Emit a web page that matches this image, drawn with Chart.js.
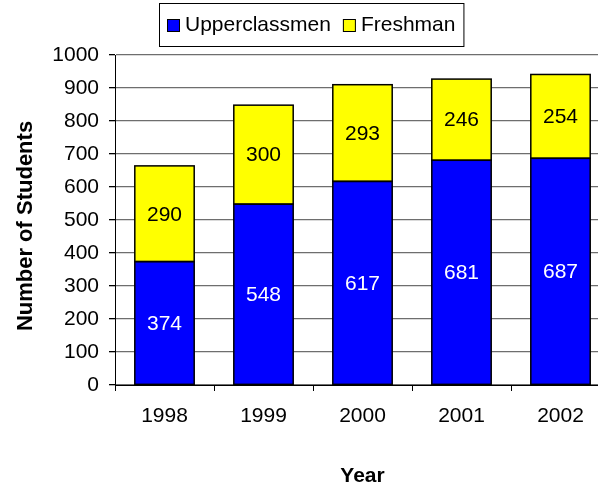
<!DOCTYPE html>
<html>
<head>
<meta charset="utf-8">
<script src="https://cdn.jsdelivr.net/npm/chart.js@4"></script>
<style>
  html, body { margin: 0; padding: 0; background: #fff; overflow: hidden; }
  #wrap { position: absolute; left: 0; top: 0; width: 610px; height: 487px; }
</style>
</head>
<body>
<div id="wrap"><canvas id="chart"></canvas></div>
<script>
// 数据
const years = ['1998', '1999', '2000', '2001', '2002'];
const upperclassmen = [374, 548, 617, 681, 687];
const freshman = [290, 300, 293, 246, 254];
const yTicks = [0, 100, 200, 300, 400, 500, 600, 700, 800, 900, 1000];

const FONT = "'Liberation Sans', Arial, sans-serif";

// 柱内数值
const barLabels = {
    id: 'barLabels',
    afterDatasetsDraw(chart) {
        const ctx = chart.ctx;
        ctx.save();
        ctx.font = '21px ' + FONT;
        ctx.textAlign = 'center';
        ctx.textBaseline = 'middle';
        chart.data.datasets.forEach((ds, i) => {
            const meta = chart.getDatasetMeta(i);
            meta.data.forEach((bar, j) => {
                ctx.fillStyle = ds.labelColor;
                ctx.fillText(String(ds.data[j]), bar.x, (bar.y + bar.base) / 2 + 1);
            });
        });
        ctx.restore();
    }
};

// 带边框的图例 + 纵轴标题
const boxedLegend = {
    id: 'boxedLegend',
    afterDraw(chart) {
        const ctx = chart.ctx;
        ctx.save();
        ctx.font = '21px ' + FONT;
        const sq = 13, gapText = 5, gapItem = 12, padX = 8;
        const items = chart.data.datasets.map(ds => ({
            label: ds.label, color: ds.backgroundColor,
            w: ctx.measureText(ds.label).width
        }));
        let total = padX * 2;
        items.forEach((it, i) => { total += sq + gapText + it.w + (i ? gapItem : 0); });
        const cx = 311, top = 3, h = 43;
        const left = Math.round(cx - total / 2);
        ctx.strokeStyle = '#000';
        ctx.lineWidth = 1;
        ctx.strokeRect(left + 0.5, top + 0.5, total, h);
        let x = left + padX;
        const my = top + h / 2 + 1;
        ctx.textBaseline = 'middle';
        ctx.textAlign = 'left';
        items.forEach((it, i) => {
            if (i) x += gapItem;
            ctx.fillStyle = it.color;
            ctx.fillRect(x, my - sq / 2, sq, sq);
            ctx.strokeRect(x + 0.5, my - sq / 2 + 0.5, sq - 1, sq - 1);
            x += sq + gapText;
            ctx.fillStyle = '#000';
            ctx.fillText(it.label, x, my);
            x += it.w;
        });

        // 纵轴标题
        ctx.translate(26, 226);
        ctx.rotate(-Math.PI / 2);
        ctx.textAlign = 'center';
        ctx.font = 'bold 22px ' + FONT;
        ctx.fillText('Number of Students', 0, 0);
        ctx.restore();
    }
};

// 柱子黑色边框
const barOutline = {
    id: 'barOutline',
    afterDatasetsDraw(chart) {
        const ctx = chart.ctx;
        ctx.save();
        ctx.strokeStyle = '#000';
        ctx.lineWidth = 1.5;
        chart.data.datasets.forEach((ds, i) => {
            chart.getDatasetMeta(i).data.forEach(bar => {
                const w = bar.width;
                ctx.strokeRect(bar.x - w / 2, bar.y, w, bar.base - bar.y);
            });
        });
        ctx.restore();
    }
};

new Chart(document.getElementById('chart').getContext('2d'), {
    type: 'bar',
    data: {
        labels: years,
        datasets: [
            {
                label: 'Upperclassmen',
                data: upperclassmen,
                backgroundColor: '#0000FF',
                borderWidth: 0,
                labelColor: '#fff'
            },
            {
                label: 'Freshman',
                data: freshman,
                backgroundColor: '#FFFF00',
                borderWidth: 0,
                labelColor: '#000'
            }
        ]
    },
    options: {
        responsive: true,
        maintainAspectRatio: false,
        animation: false,
        devicePixelRatio: 1,
        layout: { padding: { top: 55, left: 0, right: 0, bottom: 0 } },
        barPercentage: 0.6,
        categoryPercentage: 1,
        plugins: {
            legend: { display: false },
            tooltip: { enabled: false }
        },
        scales: {
            x: {
                stacked: true,
                offset: true,
                grid: {
                    offset: true,
                    drawOnChartArea: false,
                    drawTicks: true,
                    tickLength: 6,
                    color: '#000'
                },
                border: { color: '#000', width: 1 },
                ticks: {
                    color: '#000',
                    padding: 13,
                    maxRotation: 0,
                    font: { family: FONT, size: 21 }
                },
                title: {
                    display: true,
                    text: 'Year',
                    color: '#000',
                    padding: { top: 0, bottom: 0 },
                    font: { family: FONT, size: 21, weight: 'bold', lineHeight: 1 }
                },
                afterFit(scale) { scale.height = 102; }
            },
            y: {
                stacked: true,
                min: yTicks[0],
                max: yTicks[yTicks.length - 1],
                afterBuildTicks(scale) { scale.ticks = yTicks.map(v => ({ value: v })); },
                grid: {
                    color: '#6e6e6e',
                    lineWidth: 1.3,
                    tickLength: 6,
                    tickColor: '#000'
                },
                border: { color: '#000', width: 1 },
                ticks: {
                    color: '#000',
                    padding: 10,
                    font: { family: FONT, size: 21 },
                    callback: v => String(v)
                },
                afterFit(scale) { scale.width = 115; }
            }
        }
    },
    plugins: [barLabels, barOutline, boxedLegend]
});
</script>
</body>
</html>
